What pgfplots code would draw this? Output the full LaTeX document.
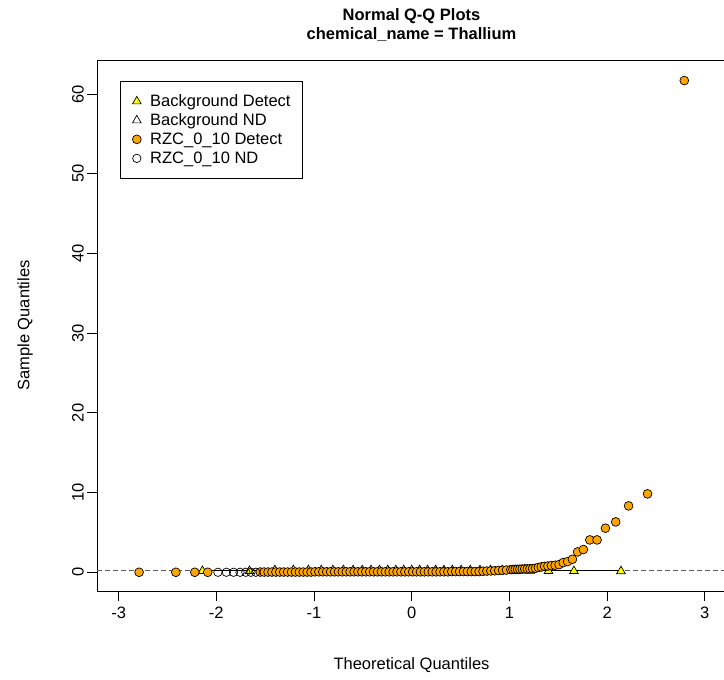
\documentclass[border=0pt]{standalone}
\usepackage{fontspec}
\setmainfont{Liberation Sans}
\usepackage{pgfplots}
\pgfplotsset{compat=1.18}
\definecolor{rorange}{RGB}{255,165,0}
\definecolor{ryellow}{RGB}{255,255,0}
\begin{document}
\begin{tikzpicture}[font=\fontsize{16.5bp}{19.8bp}\selectfont]
\useasboundingbox (0,0) rectangle (724bp,680bp);
\begin{axis}[
  at={(97bp,89bp)}, anchor=south west,
  scale only axis, width=629bp, height=531bp,
  xmin=-3.221, xmax=3.217, ymin=-2.35, ymax=64.28,
  axis line style={line width=0.8bp, black},
  xtick={-3,-2,-1,0,1,2,3}, ytick={0,10,20,30,40,50,60},
  xtick pos=bottom, ytick pos=left,
  tick align=outside, major tick length=9.6bp,
  tick style={line width=0.8bp, black},
  /pgf/number format/assume math mode=true,
  xticklabel style={anchor=north, yshift=-3bp},
  yticklabel style={rotate=90, anchor=south, xshift=0bp},
  title={Normal Q-Q Plots\\chemical\_name = Thallium},
  title style={font=\fontsize{16.5bp}{18.5bp}\selectfont\bfseries, align=center,
    at={([yshift=29bp]axis description cs:0.5,1)}, anchor=center},
  xlabel={Theoretical Quantiles},
  xlabel style={at={([yshift=-74bp]axis description cs:0.5,0)}, anchor=center},
  ylabel={Sample Quantiles},
  ylabel style={at={([xshift=-72bp]axis description cs:0,0.5)}, anchor=center, rotate=0},
  legend style={at={(0.0366,0.9605)}, anchor=north west, draw=black, line width=0.8bp,
    inner xsep=12bp, inner ysep=12bp, row sep=3bp, column sep=9bp,
    nodes={inner sep=0pt, text height=13bp, text depth=3bp},
    cells={anchor=west}, font=\fontsize{16.5bp}{19.8bp}\selectfont},
  legend image code/.code={\draw[#1] plot coordinates {(0bp,0bp)};},
]
% qq lines
\addplot[black!65, line width=1.5bp, dash pattern=on 5bp off 3bp, forget plot] coordinates {(-3.221,0.2) (3.217,0.2)};
\addplot[black, line width=1.5bp, forget plot] coordinates {(-2.142,0.2) (2.142,0.2)};
% Background Detect
\addplot[only marks, mark=triangle*, mark size=5bp, mark options={fill=ryellow, draw=black, line width=0.7bp}]
coordinates {(-2.142,0.16) (-1.6605,0.16) (1.2112,0.2) (1.4003,0.15) (1.6605,0.15) (2.142,0.14)};
\addlegendentry{Background Detect}
% Background ND
\addplot[only marks, mark=triangle, mark size=5bp, mark options={draw=black, line width=0.7bp}]
coordinates {(-1.4003,0.26) (-1.2112,0.26) (-1.0575,0.26) (-0.9255,0.26) (-0.8071,0.26)
 (-0.6990,0.26) (-0.5995,0.26) (-0.5058,0.26) (-0.4162,0.26) (-0.3295,0.26) (-0.2451,0.26)
 (-0.1624,0.26) (-0.0809,0.26) (0,0.26) (0.0809,0.26) (0.1624,0.26) (0.2451,0.26) (0.3295,0.26)
 (0.4162,0.26) (0.5058,0.26) (0.5995,0.26) (0.6990,0.26) (0.8071,0.26) (0.9255,0.26) (1.0575,0.26)};
\addlegendentry{Background ND}
% RZC_0_10 Detect
\addplot[only marks, mark=*, mark size=4.4bp, mark options={fill=rorange, draw=black, line width=0.7bp}]
coordinates {(-2.790,0) (-2.414,0) (-2.220,0) (-2.088,0)
 (-1.55,0.03) (-1.51,0.03) (-1.47,0.03) (-1.43,0.03) (-1.39,0.03) (-1.35,0.03) (-1.31,0.03)
 (-1.27,0.03) (-1.23,0.03) (-1.19,0.03) (-1.15,0.03) (-1.11,0.03) (-1.07,0.03) (-1.03,0.03)
 (-0.99,0.06) (-0.95,0.06) (-0.91,0.06) (-0.87,0.06) (-0.83,0.06) (-0.79,0.06) (-0.75,0.06)
 (-0.71,0.06) (-0.67,0.06) (-0.63,0.06) (-0.59,0.06) (-0.55,0.06) (-0.51,0.06) (-0.47,0.06)
 (-0.43,0.06) (-0.39,0.06) (-0.35,0.06) (-0.31,0.06) (-0.27,0.06) (-0.23,0.06) (-0.19,0.06)
 (-0.15,0.06) (-0.11,0.06) (-0.07,0.06) (-0.03,0.06) (0.01,0.06) (0.05,0.06) (0.09,0.06)
 (0.13,0.06) (0.17,0.06) (0.21,0.06) (0.25,0.06) (0.29,0.06) (0.33,0.06) (0.37,0.06)
 (0.41,0.09) (0.45,0.09) (0.49,0.09) (0.53,0.09) (0.57,0.09) (0.61,0.09) (0.65,0.09) (0.69,0.09)
 (0.73,0.13) (0.77,0.15) (0.81,0.17) (0.85,0.19) (0.89,0.22) (0.93,0.25) (0.97,0.28)
 (1.014,0.33) (1.036,0.35) (1.060,0.36) (1.083,0.37) (1.107,0.38) (1.132,0.40) (1.157,0.42)
 (1.183,0.42) (1.210,0.44) (1.237,0.46) (1.266,0.50) (1.296,0.60) (1.327,0.67) (1.360,0.75)
 (1.394,0.78) (1.430,0.84) (1.468,0.88) (1.508,0.96) (1.550,1.21) (1.596,1.34) (1.645,1.63)
 (1.698,2.55) (1.757,2.85) (1.823,4.06) (1.897,4.06) (1.983,5.53) (2.088,6.32) (2.220,8.33)
 (2.414,9.84) (2.790,61.7)};
\addlegendentry{RZC\_0\_10 Detect}
% RZC_0_10 ND
\addplot[only marks, mark=o, mark size=4.2bp, mark options={draw=black, line width=0.7bp}]
coordinates {(-1.983,0) (-1.897,0) (-1.823,0) (-1.757,0) (-1.698,0) (-1.645,0) (-1.596,0)};
\addlegendentry{RZC\_0\_10 ND}
\end{axis}
\end{tikzpicture}
\end{document}
